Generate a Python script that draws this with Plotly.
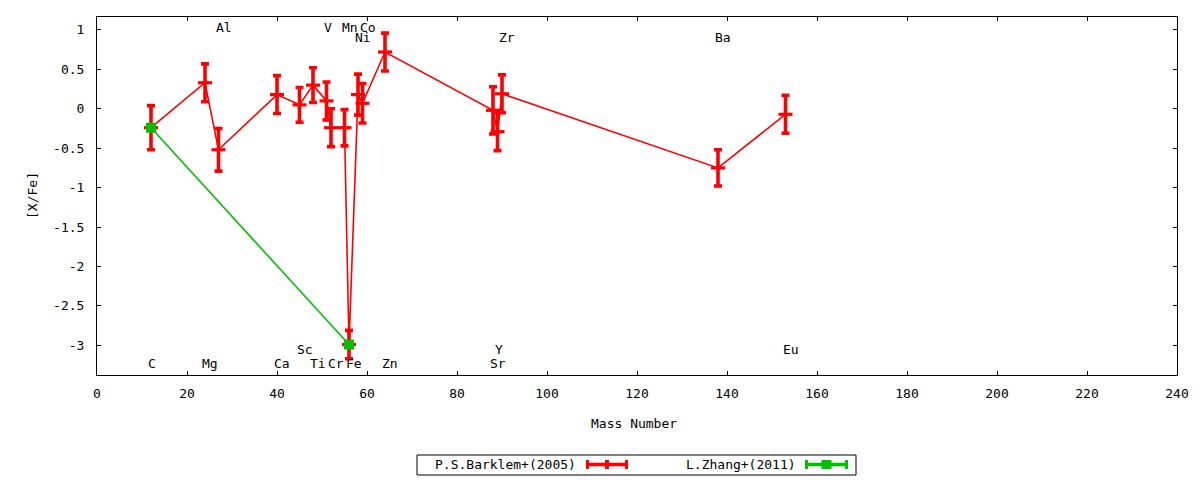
import plotly.graph_objects as go

# ---- data ----
elements = ["C", "Mg", "Al", "Ca", "Sc", "Ti", "V", "Cr", "Mn", "Fe",
            "Ni", "Co", "Zn", "Sr", "Y", "Zr", "Ba", "Eu"]
mass = [12, 24, 27, 40, 45, 48, 51, 52, 55, 56, 58, 59, 64, 88, 89, 90, 138, 153]
barklem_xfe = [-0.24, 0.33, -0.52, 0.18, 0.05, 0.30, 0.10, -0.24, -0.24, -2.99,
               0.18, 0.07, 0.72, -0.02, -0.29, 0.19, -0.75, -0.07]
barklem_err = [0.28, 0.24, 0.27, 0.24, 0.22, 0.22, 0.24, 0.24, 0.23, 0.18,
               0.26, 0.25, 0.24, 0.30, 0.24, 0.24, 0.23, 0.24]

zhang_mass = [12, 56]
zhang_xfe = [-0.24, -2.99]

# element labels: (text, mass, y)
label_text = ["Al", "V", "Mn", "Co", "Ni", "Zr", "Ba", "Sc", "Y", "Eu",
              "C", "Mg", "Ca", "Ti", "Cr", "Fe", "Zn", "Sr"]
label_mass = [27, 51, 55, 59, 58, 90, 138, 45, 89, 153,
              12, 24, 40, 48, 52, 56, 64, 88]
label_y = [1.03, 1.03, 1.03, 1.03, 0.91, 0.91, 0.91, -3.05, -3.05, -3.05,
           -3.23, -3.23, -3.23, -3.23, -3.23, -3.23, -3.23, -3.23]

x_ticks = list(range(0, 241, 20))
y_ticks = [1, 0.5, 0, -0.5, -1, -1.5, -2, -2.5, -3]
y_tick_text = ["1", "0.5", "0", "-0.5", "-1", "-1.5", "-2", "-2.5", "-3"]

series_names = ["P.S.Barklem+(2005)", "L.Zhang+(2011)"]

RED = "#ff0000"
GREEN = "#00c000"
FONT = "DejaVu Sans Mono"

# plot area in page pixels
L, R, T, B = 97, 1177, 17, 375
W, H = 1200, 480


def px(x):
    return (x - L) / (R - L)


def py(y):
    return (B - y) / (B - T)


fig = go.Figure()

fig.add_trace(go.Scatter(
    x=mass, y=barklem_xfe, name=series_names[0], mode="lines+markers",
    line=dict(color=RED, width=1.6),
    marker=dict(symbol="line-ew", size=10, color=RED,
                line=dict(color=RED, width=3.2)),
    error_y=dict(type="data", array=barklem_err, visible=True,
                 color=RED, thickness=3.6, width=4),
    showlegend=False,
))

fig.add_trace(go.Scatter(
    x=zhang_mass, y=zhang_xfe, name=series_names[1], mode="lines+markers",
    line=dict(color=GREEN, width=1.6),
    marker=dict(symbol="square", size=10, color=GREEN),
    showlegend=False,
))

annotations = []
for t, m, yv in zip(label_text, label_mass, label_y):
    annotations.append(dict(
        x=m, y=yv, xref="x", yref="y", text=t, showarrow=False,
        xanchor="left", yanchor="middle", xshift=-5,
        font=dict(family=FONT, size=13, color="black"),
    ))

# axis titles
annotations.append(dict(
    x=px(634), y=py(424), xref="paper", yref="paper", text="Mass Number",
    showarrow=False, xanchor="center", yanchor="middle",
    font=dict(family=FONT, size=13, color="black")))
annotations.append(dict(
    x=px(32), y=py(196), xref="paper", yref="paper", text="[X/Fe]",
    showarrow=False, xanchor="center", yanchor="middle", textangle=-90,
    font=dict(family=FONT, size=13, color="black")))

# custom gnuplot-like legend
shapes = []
ly = 464.5
shapes.append(dict(type="rect", xref="paper", yref="paper",
                   x0=px(417), x1=px(856), y0=py(455), y1=py(475),
                   line=dict(color="black", width=1), fillcolor="rgba(0,0,0,0)"))
annotations.append(dict(
    x=px(578), y=py(ly), xref="paper", yref="paper", text=series_names[0],
    showarrow=False, xanchor="right", yanchor="middle",
    font=dict(family=FONT, size=13, color="black")))
annotations.append(dict(
    x=px(798), y=py(ly), xref="paper", yref="paper", text=series_names[1],
    showarrow=False, xanchor="right", yanchor="middle",
    font=dict(family=FONT, size=13, color="black")))

for (xa, xb, col, sq) in [(586, 628, RED, False), (805, 848, GREEN, True)]:
    shapes.append(dict(type="line", xref="paper", yref="paper",
                       x0=px(xa), x1=px(xb), y0=py(ly), y1=py(ly),
                       line=dict(color=col, width=3.4)))
    for xc in (xa + 1.5, xb - 1.5):
        shapes.append(dict(type="line", xref="paper", yref="paper",
                           x0=px(xc), x1=px(xc), y0=py(ly - 4.5), y1=py(ly + 4.5),
                           line=dict(color=col, width=3)))
    mid = (xa + xb) / 2
    half = 5 if sq else 2
    shapes.append(dict(type="rect", xref="paper", yref="paper",
                       x0=px(mid - half), x1=px(mid + half),
                       y0=py(ly - 4.5), y1=py(ly + 4.5),
                       line=dict(width=0), fillcolor=col))

axis_common = dict(
    showline=True, linecolor="black", linewidth=1, mirror="ticks",
    ticks="inside", ticklen=4, tickwidth=1, tickcolor="black",
    showgrid=False, zeroline=False,
    tickfont=dict(family=FONT, size=13, color="black"),
)

fig.update_layout(
    width=W, height=H, autosize=False,
    margin=dict(l=L, r=W - R, t=T, b=H - B, pad=0),
    paper_bgcolor="white", plot_bgcolor="white",
    font=dict(family=FONT, size=13, color="black"),
    xaxis=dict(range=[0, 240], tickvals=x_ticks,
               ticktext=[str(v) for v in x_ticks],
               ticklabelstandoff=6, **axis_common),
    yaxis=dict(range=[-3.376, 1.164], tickvals=y_ticks, ticktext=y_tick_text,
               ticklabelstandoff=9, **axis_common),
    annotations=annotations,
    shapes=shapes,
    showlegend=False,
)

fig.write_html(
    "out.html",
    config={"displayModeBar": False},
    post_script="document.body.style.margin='0';"
                "document.body.style.overflow='hidden';",
)
